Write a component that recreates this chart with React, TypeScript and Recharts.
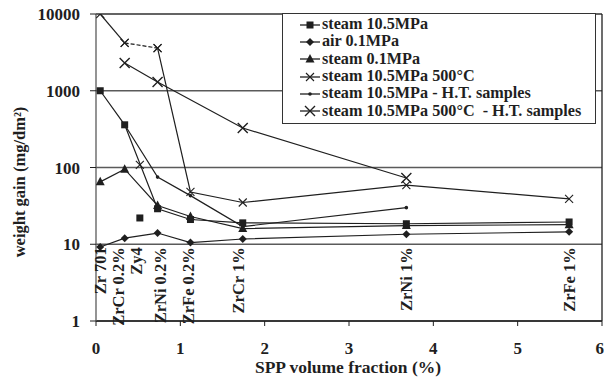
import React from "react";
import {
  LineChart,
  Line,
  XAxis,
  YAxis,
  CartesianGrid,
  ReferenceLine,
  ReferenceDot,
  Legend,
  Label,
} from "recharts";

const FONT = '"Liberation Serif", "Times New Roman", serif';
const INK = "#1f1f1f";
const GRID = "#5a5a5a";

// alloys along the x axis, and their SPP volume fraction (%)
const alloys = ["Zr 701", "ZrCr 0.2%", "Zy4", "ZrNi 0.2%", "ZrFe 0.2%", "ZrCr 1%", "ZrNi 1%", "ZrFe 1%"];
const spp = [0.05, 0.34, 0.52, 0.73, 1.12, 1.74, 3.68, 5.61];

// weight gain (mg/dm2), one entry per alloy, null where not measured
const steam105 = [1000, 360, 22, 29, 21, 19, 18.5, 19.5];
const air01 = [9.2, 12, null, 14, 10.5, 11.7, 13.5, 14.5];
const steam01 = [65, 95, null, 32, 23, 16, 17.5, 18];
const steam105At500 = [10000, 4200, 108, 3600, 48, 35, 59, 39];
const steam105HT = [null, 360, null, 75, 43, 17, 30, null];
const steam105At500HT = [null, 2300, null, 1300, null, 327, 73, null];

const xTicks = [0, 1, 2, 3, 4, 5, 6];
const yTicks = [1, 10, 100, 1000, 10000];

// small pixel nudges for the rotated alloy names
const labelNudge = [0, -6, -3, 3, -2, -4, 0, 0];

type Pt = { x: number; y: number };

function pick(vals: (number | null)[], idx?: number[]): Pt[] {
  const out: Pt[] = [];
  vals.forEach((v, i) => {
    if (v == null) return;
    if (idx && !idx.includes(i)) return;
    out.push({ x: spp[i], y: v });
  });
  return out;
}

const Square = (p: any) =>
  p.cx == null ? <g key={p.index} /> : <rect key={p.index} x={p.cx - 3.5} y={p.cy - 3.5} width={7} height={7} fill={INK} />;

const Diamond = (p: any) =>
  p.cx == null ? (
    <g key={p.index} />
  ) : (
    <polygon
      key={p.index}
      points={`${p.cx},${p.cy - 4} ${p.cx + 4},${p.cy} ${p.cx},${p.cy + 4} ${p.cx - 4},${p.cy}`}
      fill={INK}
    />
  );

const Triangle = (p: any) =>
  p.cx == null ? (
    <g key={p.index} />
  ) : (
    <polygon
      key={p.index}
      points={`${p.cx},${p.cy - 5} ${p.cx + 4.5},${p.cy + 3.5} ${p.cx - 4.5},${p.cy + 3.5}`}
      fill={INK}
    />
  );

const cross = (s: number, w: number) => (p: any) =>
  p.cx == null ? (
    <g key={p.index} />
  ) : (
    <path
      key={p.index}
      d={`M${p.cx - s},${p.cy - s}L${p.cx + s},${p.cy + s}M${p.cx - s},${p.cy + s}L${p.cx + s},${p.cy - s}`}
      stroke={INK}
      strokeWidth={w}
      fill="none"
    />
  );
const SmallX = cross(4, 1.1);
const BigX = cross(5, 1.4);

const SmallDot = (p: any) =>
  p.cx == null ? <g key={p.index} /> : <circle key={p.index} cx={p.cx} cy={p.cy} r={1.8} fill={INK} />;

const legendItems = [
  { name: "steam 10.5MPa", marker: "square" },
  { name: "air 0.1MPa", marker: "diamond" },
  { name: "steam 0.1MPa", marker: "triangle" },
  { name: "steam 10.5MPa 500°C", marker: "x" },
  { name: "steam 10.5MPa - H.T. samples", marker: "dot" },
  { name: "steam 10.5MPa 500°C  - H.T. samples", marker: "bigx" },
];

function LegendMarker({ kind }: { kind: string }) {
  const p = { cx: 11, cy: 6, index: 0 };
  let m: React.ReactNode = null;
  if (kind === "square") m = Square(p);
  if (kind === "diamond") m = Diamond(p);
  if (kind === "triangle") m = Triangle(p);
  if (kind === "x") m = SmallX(p);
  if (kind === "bigx") m = BigX(p);
  if (kind === "dot") m = SmallDot(p);
  return (
    <svg width={22} height={12} style={{ display: "block", flex: "none" }}>
      <line x1={1} y1={6} x2={21} y2={6} stroke={INK} strokeWidth={1.3} />
      {m}
    </svg>
  );
}

function LegendBox() {
  return (
    <div
      style={{
        border: "1.5px solid #333",
        background: "#fff",
        padding: "2px 4px 3px 16px",
        fontFamily: FONT,
        fontWeight: "bold",
        fontSize: 16.2,
        color: INK,
        width: 292,
      }}
    >
      {legendItems.map((it) => (
        <div key={it.name} style={{ display: "flex", alignItems: "center", height: 17.3, whiteSpace: "pre" }}>
          <LegendMarker kind={it.marker} />
          <span style={{ marginLeft: 1 }}>{it.name}</span>
        </div>
      ))}
    </div>
  );
}

function AlloyName(i: number) {
  return (p: any) => {
    const x = p.cx + labelNudge[i];
    const y = p.cy + 3;
    return (
      <text
        x={x}
        y={y}
        transform={`rotate(-90 ${x} ${y})`}
        textAnchor="end"
        dominantBaseline="central"
        fontFamily={FONT}
        fontWeight="bold"
        fontSize={16.5}
        fill={INK}
      >
        {alloys[i]}
      </text>
    );
  };
}

const lineProps = {
  dataKey: "y",
  stroke: INK,
  strokeWidth: 1.2,
  isAnimationActive: false,
  type: "linear" as const,
  legendType: "none" as const,
};

export default function App() {
  const tickStyle = { fontFamily: FONT, fontWeight: "bold", fontSize: 17, fill: INK };
  const s500Solid1 = pick(steam105At500, [0, 1]);
  const s500Dashed = pick(steam105At500, [1, 3]);
  const s500Solid2 = pick(steam105At500, [3, 4, 5, 6, 7]);
  const s500Zy4 = pick(steam105At500, [2]);
  const steamLine = pick(steam105, [0, 1, 3, 4, 5, 6, 7]);
  const steamZy4 = pick(steam105, [2]);

  return (
    <div style={{ position: "absolute", left: 0, top: 0, background: "#fff" }}>
      <LineChart width={604} height={382} margin={{ top: 14, right: 2, left: 10, bottom: 0 }}>
        <CartesianGrid horizontal vertical={false} stroke={GRID} strokeWidth={1.5} />
        <ReferenceLine y={10000} stroke={GRID} strokeWidth={1.5} ifOverflow="visible" />
        <XAxis
          dataKey="x"
          type="number"
          domain={[0, 6]}
          ticks={xTicks}
          allowDataOverflow
          height={61}
          tick={tickStyle}
          tickSize={5}
          tickMargin={16}
          axisLine={{ stroke: INK, strokeWidth: 1.5 }}
          tickLine={{ stroke: INK }}
        >
          <Label
            content={() => (
              <text x={348} y={373} textAnchor="middle" fontFamily={FONT} fontWeight="bold" fontSize={17.5} fill={INK}>
                SPP volume fraction (%)
              </text>
            )}
          />
        </XAxis>
        <YAxis
          dataKey="y"
          type="number"
          scale="log"
          domain={[1, 10000]}
          ticks={yTicks}
          allowDataOverflow
          width={86}
          tick={tickStyle}
          tickSize={6}
          tickMargin={10}
          axisLine={{ stroke: GRID, strokeWidth: 1.3 }}
          tickLine={{ stroke: INK }}
        >
          <Label
            content={() => (
              <text
                x={19}
                y={182}
                transform="rotate(-90 19 182)"
                textAnchor="middle"
                dominantBaseline="central"
                fontFamily={FONT}
                fontWeight="bold"
                fontSize={16.5}
                fill={INK}
              >
                weight gain (mg/dm²)
              </text>
            )}
          />
        </YAxis>
        <ReferenceLine x={6} stroke={INK} strokeWidth={1.3} ifOverflow="visible" />

        {alloys.map((a, i) => (
          <ReferenceDot key={a} x={spp[i]} y={10} r={0} ifOverflow="visible" shape={AlloyName(i)} />
        ))}

        <Line {...lineProps} data={pick(air01)} dot={Diamond} />
        <Line {...lineProps} data={pick(steam01)} dot={Triangle} />
        <Line {...lineProps} data={pick(steam105HT)} dot={SmallDot} />
        <Line {...lineProps} data={pick(steam105At500HT)} dot={BigX} />
        <Line {...lineProps} data={s500Solid1} dot={SmallX} />
        <Line {...lineProps} data={s500Dashed} strokeDasharray="4 2" dot={SmallX} />
        <Line {...lineProps} data={s500Solid2} dot={SmallX} />
        <Line {...lineProps} data={s500Zy4} stroke="none" dot={SmallX} />
        <Line {...lineProps} data={steamLine} dot={Square} />
        <Line {...lineProps} data={steamZy4} stroke="none" dot={Square} />

        <Legend
          layout="vertical"
          align="center"
          verticalAlign="middle"
          wrapperStyle={{ left: 282, top: 13, width: "auto" }}
          content={() => <LegendBox />}
        />
      </LineChart>
    </div>
  );
}
